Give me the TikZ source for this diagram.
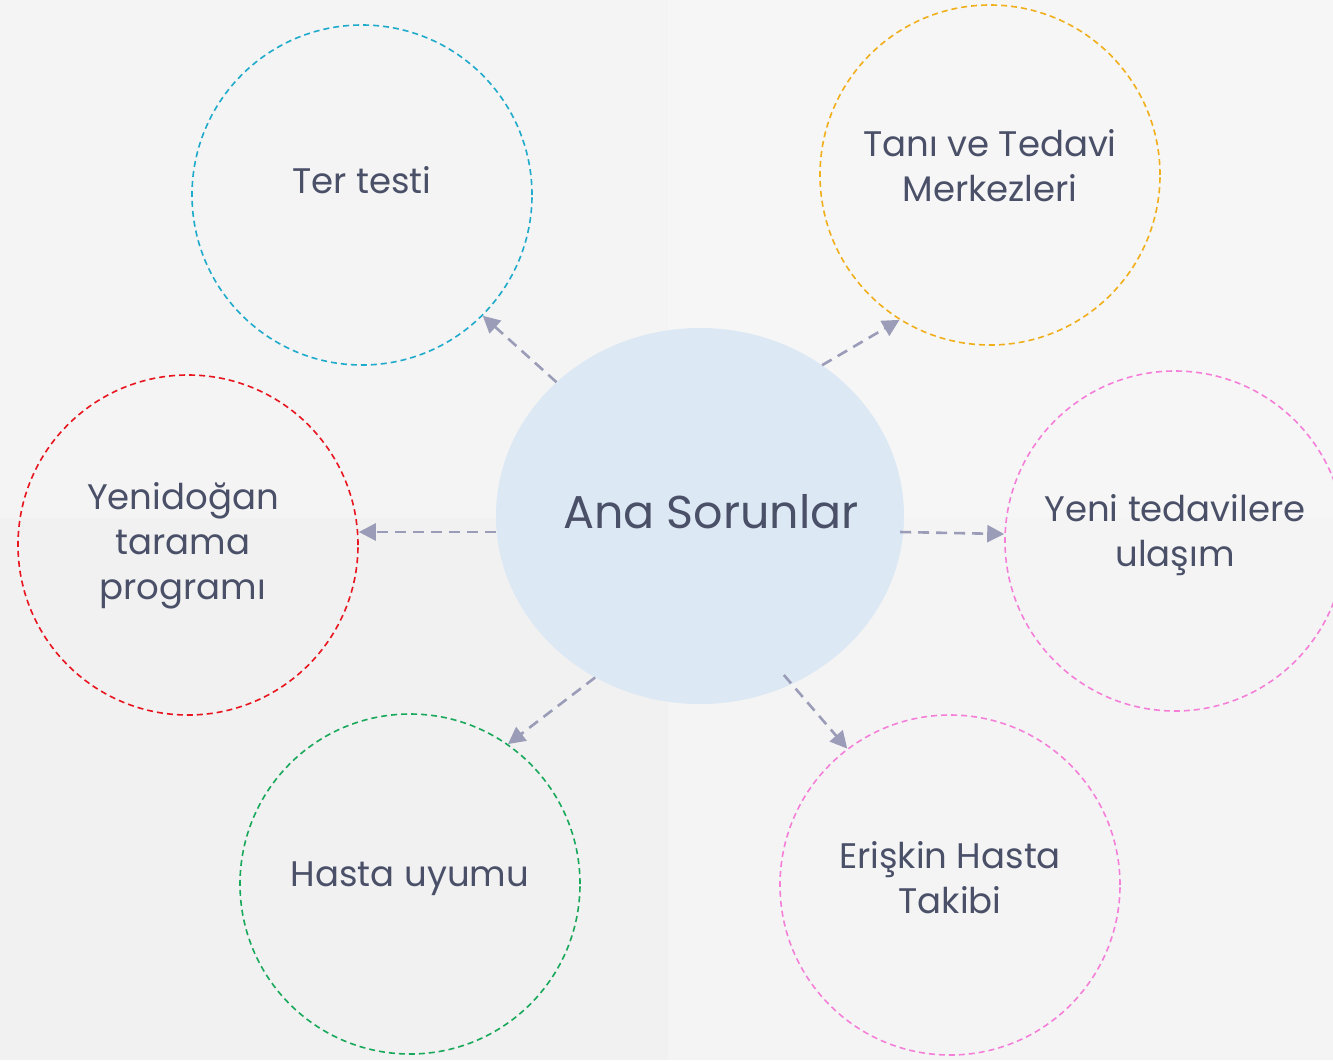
\documentclass[tikz,border=0pt]{standalone}
\usepackage{fontspec}
\setmainfont{Poppins}
\usetikzlibrary{arrows.meta,shapes.geometric}
\definecolor{bgA}{HTML}{F4F4F4}
\definecolor{bgB}{HTML}{F6F6F6}
\definecolor{bgC}{HTML}{F1F1F1}
\definecolor{bgD}{HTML}{F4F4F4}
\definecolor{txt}{HTML}{4A5068}
\definecolor{arr}{HTML}{9A9CB8}
\definecolor{cfill}{HTML}{DCE8F3}
\definecolor{ccyan}{HTML}{1EAACB}
\definecolor{corange}{HTML}{F0AE1A}
\definecolor{cred}{HTML}{E8141E}
\definecolor{cpink}{HTML}{F57FD8}
\definecolor{cgreen}{HTML}{18A85A}
\tikzset{
  bubble/.style={circle, draw, dashed, dash pattern=on 6pt off 4pt, line width=1.6pt, minimum size=340pt, inner sep=0pt},
  lbl/.style={text=txt, align=center, font=\fontsize{35.5}{45}\selectfont},
  conn/.style={draw=arr, line width=2.6pt, dash pattern=on 11pt off 7pt, -{Triangle[length=17pt,width=17pt]}}
}
\begin{document}
\begin{tikzpicture}[x=1pt,y=-1pt]
\useasboundingbox (0,0) rectangle (1333,1060);
\fill[bgA] (0,0) rectangle (668,518);
\fill[bgB] (668,0) rectangle (1333,518);
\fill[bgC] (0,518) rectangle (668,1060);
\fill[bgD] (668,518) rectangle (1333,1060);
\clip (0,0) rectangle (1333,1060);
\node[ellipse, fill=cfill, minimum width=408pt, minimum height=376pt, inner sep=0pt] (c) at (700,516) {};
\node[lbl, font=\fontsize{46}{50}\selectfont] (ct) at (711,512) {Ana Sorunlar};
\node[bubble, draw=ccyan] (ter) at (362,195) {};
\node[bubble, draw=corange] (tani) at (990,175) {};
\node[bubble, draw=cred] (yen) at (188,545) {};
\node[bubble, draw=cpink] (yt) at (1175,541) {};
\node[bubble, draw=cgreen] (hu) at (410,884) {};
\node[bubble, draw=cpink] (er) at (950,885) {};
\node[lbl] (tert) at (362,180) {Ter testi};
\node[lbl] (tanit) at (990,166) {Tanı ve Tedavi\\Merkezleri};
\node[lbl] (yent) at (183,546) {Yenidoğan\\tarama\\programı};
\node[lbl] (ytt) at (1175,535) {Yeni tedavilere\\ulaşım};
\node[lbl] (hut) at (410,879) {Hasta uyumu};
\node[lbl] (ert) at (950,878) {Erişkin Hasta\\Takibi};
\draw[conn] (c.137) -- (ter.-45);
\draw[conn] (c.51) -- (tani.-122);
\draw[conn] ([shift={(0,16)}]c.west) -- ([shift={(0,-13)}]yen.east);
\draw[conn] ([shift={(-4,16)}]c.east) -- ([shift={(0,-7)}]yt.west);
\draw[conn] (c.-123.8) -- (hu.55.4);
\draw[conn] ([shift={(-6,-10)}]c.-62) -- (er.127.4);
\end{tikzpicture}
\end{document}
